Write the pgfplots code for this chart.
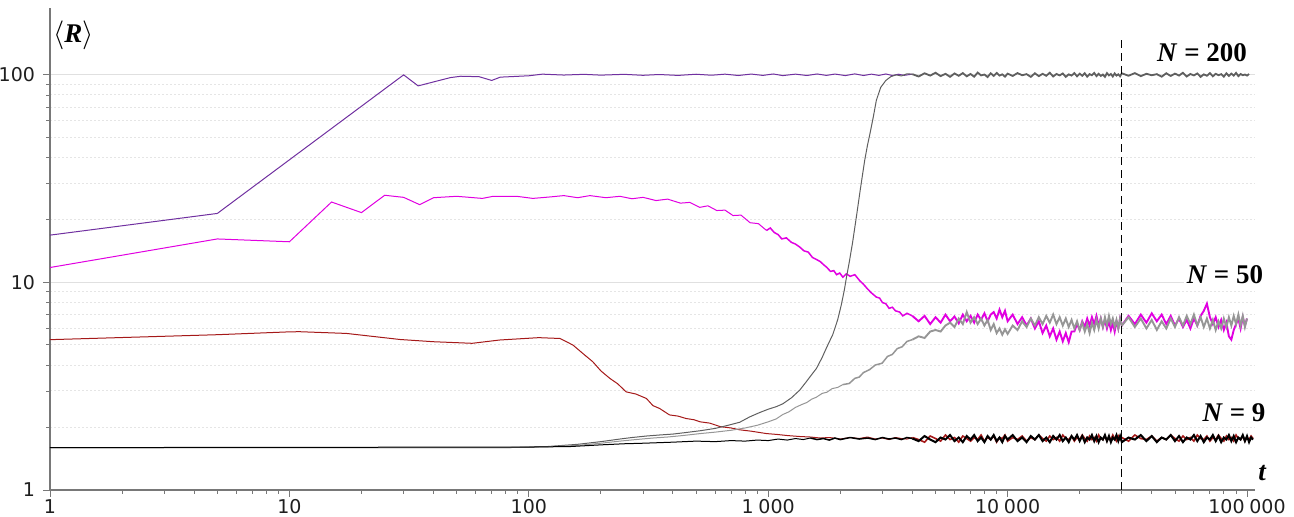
\documentclass[border=0pt]{standalone}
\usepackage{pgfplots}
\pgfplotsset{compat=1.18}
\usepackage{pgfplotstable}
\usepackage{fontspec}
\setmainfont{Liberation Serif}
\newfontfamily\tickfont{DejaVu Sans}

\definecolor{purpleN}{RGB}{112,48,160}
\definecolor{magN}{RGB}{225,0,225}
\definecolor{redN}{RGB}{165,25,25}
\definecolor{grayA}{RGB}{95,95,95}
\definecolor{grayB}{RGB}{150,150,150}
\definecolor{axisgray}{RGB}{120,120,120}

% stationary regime: columns = N=200 (low start), N=50 (high / low start), N=9 (low / high start)
\pgfplotstableread{
t      g200   m50   g50   k9    r9
4000   100.8  6.9   5.3   1.77  1.79
4250   98.2   6.5   5.5   1.72  1.75
4500   101.8  6.9   5.4   1.82  1.70
4750   99.2   6.3   5.8   1.75  1.82
5000   102.4  6.8   5.9   1.70  1.77
5250   98.6   6.4   5.8   1.79  1.72
5500   101.2  7.0   6.2   1.75  1.84
5750   97.8   6.5   6.4   1.84  1.75
6000   101.6  6.85  6.1   1.72  1.79
6250   99.0   6.35  6.7   1.79  1.70
6500   102.0  7.0   6.3   1.70  1.82
6750   98.4   6.5   7.2   1.82  1.77
7000   101.0  6.9   6.4   1.75  1.72
7250   98.0   6.4   6.8   1.84  1.79
7500   102.6  7.0   6.3   1.72  1.75
7750   99.4   6.6   6.7   1.79  1.84
8000   100.4  7.1   6.2   1.70  1.72
8250   97.6   6.5   6.6   1.82  1.79
8500   101.8  7.0   5.9   1.75  1.75
8750   98.8   7.2   6.3   1.84  1.82
9000   102.2  6.7   5.7   1.72  1.70
9250   99.2   7.4   6.0   1.79  1.79
9500   100.6  6.8   5.6   1.70  1.77
9750   98.0   7.3   5.95  1.82  1.84
10000  101.4  6.5   5.65  1.75  1.72
10500  98.8   7.0   6.2   1.84  1.79
11000  102.0  6.3   5.9   1.72  1.75
11500  99.6   6.8   6.5   1.79  1.82
12000  100.8  6.2   6.1   1.70  1.72
12500  97.8   6.7   6.7   1.82  1.79
13000  101.8  6.0   6.2   1.75  1.75
13500  98.6   6.5   6.8   1.84  1.84
14000  101.2  5.7   6.3   1.72  1.77
14500  99.0   6.2   6.9   1.79  1.72
15000  102.4  5.5   6.4   1.70  1.82
15500  98.2   6.0   7.0   1.82  1.75
16000  101.0  5.3   6.3   1.75  1.79
16500  99.4   5.8   6.8   1.84  1.72
17000  101.6  5.2   6.2   1.72  1.84
17500  97.8   5.7   6.7   1.79  1.77
18000  100.6  5.15  6.1   1.70  1.75
18500  99.2   5.8   6.6   1.82  1.82
19000  102.0  5.8   6.0   1.75  1.72
19500  98.4   6.3   6.5   1.84  1.79
20000  101.4  5.9   5.9   1.72  1.75
20500  99.0   6.5   6.4   1.82  1.84
21000  101.8  6.1   5.8   1.70  1.77
21500  98.0   6.7   6.3   1.79  1.72
22000  100.8  6.2   5.7   1.75  1.82
22500  99.6   6.8   6.4   1.84  1.75
23000  102.2  6.3   5.9   1.72  1.79
23500  98.6   6.9   6.6   1.82  1.72
24000  101.2  6.2   6.0   1.70  1.84
24500  98.8   6.7   6.7   1.79  1.77
25000  100.4  6.1   6.1   1.75  1.75
25500  97.8   6.6   6.8   1.84  1.82
26000  102.0  6.0   6.2   1.72  1.72
26500  99.4   6.5   6.9   1.82  1.79
27000  101.0  5.9   6.3   1.70  1.75
27500  98.2   6.4   6.7   1.79  1.84
28000  101.6  5.8   6.1   1.75  1.77
28500  99.2   6.5   6.6   1.84  1.72
29000  100.6  6.0   6.0   1.72  1.82
29500  98.4   6.7   6.7   1.82  1.75
30000  101.8  6.2   6.2   1.70  1.79
32000  99.0   6.9   6.8   1.79  1.72
34000  102.0  6.3   6.1   1.75  1.84
36000  98.6   7.0   6.7   1.84  1.77
38000  101.2  6.4   6.0   1.72  1.75
40000  99.6   7.1   6.6   1.82  1.82
42000  100.8  6.5   5.9   1.70  1.72
44000  98.0   7.0   6.5   1.79  1.79
46000  101.8  6.3   6.0   1.75  1.75
48000  98.8   6.9   6.7   1.84  1.84
50000  101.4  6.2   6.1   1.72  1.77
52000  99.2   6.7   6.8   1.82  1.72
54000  102.4  6.1   6.2   1.70  1.82
56000  98.2   6.6   6.9   1.79  1.75
58000  101.0  6.0   6.3   1.75  1.79
60000  99.4   6.7   7.0   1.84  1.72
62000  101.6  6.2   6.2   1.72  1.84
64000  97.8   6.9   6.8   1.82  1.77
66000  100.6  7.3   6.1   1.70  1.75
68000  99.0   7.9   6.7   1.79  1.82
70000  102.0  6.8   6.0   1.75  1.72
72000  98.4   6.3   6.6   1.84  1.79
74000  101.2  6.8   5.9   1.72  1.75
76000  99.6   6.1   6.5   1.82  1.84
78000  100.8  6.6   6.0   1.70  1.77
80000  98.0   5.9   6.7   1.79  1.72
82000  101.8  6.4   6.1   1.75  1.82
84000  98.8   5.5   6.8   1.84  1.75
86000  101.4  5.3   6.2   1.72  1.79
88000  99.2   5.9   6.9   1.82  1.72
90000  102.2  6.3   6.3   1.70  1.84
92000  98.6   6.7   7.0   1.79  1.77
94000  101.0  6.0   6.2   1.75  1.75
96000  99.6   6.8   6.9   1.84  1.82
98000  100.4  6.2   6.1   1.72  1.72
100000 99.2   6.7   6.7   1.82  1.79
102000 101.0  nan   nan   1.70  1.75
104000 nan    nan   nan   1.79  1.82
106000 nan    nan   nan   1.75  1.77
}\tail

\begin{document}
\begin{tikzpicture}
\begin{loglogaxis}[
  scale only axis,
  width=602.5pt, height=241pt,
  xmin=1, xmax=108000,
  ymin=1, ymax=210,
  clip=false,
  axis x line*=bottom, axis y line*=left,
  axis line style={draw=axisgray, line width=0.6pt, -},
  every outer x axis line/.append style={-},
  every outer y axis line/.append style={-},
  tick align=outside,
  major tick length=3.5pt, minor tick length=2pt,
  tick style={draw=axisgray, line width=0.45pt},
  xtick={1,10,100,1000,10000,100000},
  xticklabels={1,10,100,1\hspace{0.25em}000,10\hspace{0.25em}000,100\hspace{0.25em}000},
  ytick={1,10,100}, yticklabels={1,10,100},
  ticklabel style={font=\tickfont\fontsize{9.5}{11}\selectfont, text=black!88},
  xticklabel style={yshift=2.3pt},
  yticklabel style={xshift=-0.5pt},
  ymajorgrids, yminorgrids,
  major grid style={draw=black!12, line width=0.6pt},
  minor grid style={draw=black!10, line width=0.5pt, dash pattern=on 1pt off 1pt},
]

% N = 200, started from above
\addplot[purpleN, line width=0.5pt] coordinates {
 (1,16.9) (5,21.5) (30,100) (34.5,88.5) (47,97) (52,98.5) (62,98) (70,94) (76,97.5)
 (100,99) (114,100.8) (140,99.8) (170,100.6) (200,99.7) (250,100.6) (300,99.5)
 (350,100.4) (420,99.4) (500,100.7) (580,99.6) (660,100.8) (750,99.3) (850,100.9)
 (950,99.4) (1050,101.0) (1150,99.2) (1300,100.8) (1450,99.3) (1600,101.0) (1750,99.4)
 (1900,100.9) (2100,99.2) (2300,101.1) (2500,99.3) (2700,100.8) (2900,99.4) (3100,101.0)
 (3300,99.3) (3500,100.7) (3700,99.5) (4000,100.8)};

% N = 50, started from above
\addplot[magN, line width=0.5pt] coordinates {
 (1,11.8) (5,16.2) (10,15.7) (15,24.4) (20,21.7) (25,26.3) (30,25.7) (35,23.7) (40,25.6)
 (50,26.0) (64,25.4) (71,26.0) (89,26.0) (104,25.4) (122,25.8) (140,26.2) (160,25.6)
 (180,26.2) (210,25.6) (240,26.0) (270,25.3) (300,25.7) (340,24.8) (380,25.2) (430,24.1)
 (470,24.3) (518,23.0) (560,23.4) (610,22.2) (660,22.3) (713,21.0) (770,21.1) (840,19.4)
 (910,19.2) (984,17.8)};
\addplot[magN, line width=0.75pt] coordinates {
 (984,17.8) (1020,18.3) (1060,17.4) (1100,17.0) (1140,16.2) (1190,16.4) (1250,15.6)
 (1300,15.3) (1355,14.8) (1410,14.2) (1470,14.0) (1530,13.2) (1590,12.9) (1650,12.6)
 (1700,12.2) (1760,11.8) (1820,11.3) (1880,11.4) (1930,10.9) (1990,11.1) (2051,10.6)
 (2120,11.0) (2200,10.7) (2300,10.9) (2410,10.2) (2500,9.8) (2600,9.3) (2700,8.9)
 (2830,8.5) (2920,8.4) (3000,8.0) (3100,7.9) (3200,7.5) (3300,7.6) (3400,7.3)
 (3540,7.2) (3650,6.9) (3800,7.1) (4000,6.9)};
\addplot[magN, line width=0.95pt] table[x=t, y=m50] {\tail};

% N = 9, started from above
\addplot[redN, line width=0.5pt] coordinates {
 (1,5.3) (5,5.6) (10,5.78) (11,5.79) (17.3,5.68) (29,5.31) (40,5.18) (58,5.09) (75.6,5.28)
 (110,5.42) (135,5.37) (153,4.99) (170,4.5) (185,4.15) (200,3.75) (218,3.45) (235,3.25)
 (255,2.97) (280,2.9) (310,2.76) (330,2.55) (352,2.47) (387,2.30) (420,2.27) (454,2.21)
 (490,2.18) (520,2.13) (570,2.1) (630,2.02) (700,1.99) (760,1.95) (850,1.92) (984,1.87)
 (1100,1.85) (1200,1.83) (1355,1.81) (1500,1.80) (1650,1.78) (1800,1.79) (2000,1.76)
 (2200,1.79) (2400,1.77) (2600,1.80) (2800,1.76) (3000,1.78) (3200,1.75) (3400,1.79)
 (3600,1.77) (3800,1.76) (4000,1.79)};
\addplot[redN, line width=0.8pt] table[x=t, y=r9] {\tail};

% N = 200, started from below
\addplot[grayA, line width=0.5pt] coordinates {
 (1,1.6) (80,1.6) (120,1.62) (160,1.66) (200,1.71) (240,1.76) (270,1.79) (310,1.82)
 (350,1.84) (400,1.86) (450,1.89) (520,1.93) (600,1.98) (680,2.05) (760,2.12) (837,2.25)
 (920,2.36) (1000,2.45) (1080,2.52) (1150,2.6) (1250,2.78) (1355,3.03) (1450,3.35)
 (1520,3.6) (1590,3.85) (1680,4.35) (1760,4.9) (1860,5.6) (1950,6.6) (2020,7.8)
 (2080,9.2) (2120,10.5) (2180,12.5) (2250,15.5) (2335,20.7) (2430,28.5) (2530,38.8)
 (2600,46) (2660,52) (2750,63) (2830,75.5) (2950,87) (3100,94) (3250,98) (3420,100)
 (3600,98.8) (3800,101.2) (4000,100.8)};
\addplot[grayA, line width=0.9pt] table[x=t, y=g200] {\tail};

% N = 50, started from below
\addplot[grayB, line width=0.5pt] coordinates {
 (1,1.6) (80,1.6) (120,1.615) (160,1.64) (200,1.68) (240,1.72) (280,1.75) (330,1.78)
 (380,1.8) (440,1.83) (520,1.87) (600,1.9) (700,1.94) (800,1.99) (900,2.05) (1000,2.13)
 (1080,2.2) (1150,2.31) (1220,2.38) (1300,2.5) (1380,2.58) (1450,2.64) (1520,2.74)
 (1590,2.8) (1680,2.92) (1760,2.96) (1850,3.08) (1950,3.12) (2050,3.22)};
\addplot[grayB, line width=0.75pt] coordinates {
 (2050,3.22) (2180,3.26) (2300,3.45) (2400,3.5) (2500,3.68) (2650,3.8) (2800,4.0)
 (2990,4.08) (3150,4.4) (3300,4.5) (3460,4.8) (3630,4.9) (3800,5.2) (4000,5.3)};
\addplot[grayB, line width=0.95pt] table[x=t, y=g50] {\tail};

% N = 9, started from below
\addplot[black, line width=0.5pt] coordinates {
 (1,1.6) (100,1.61) (150,1.62) (200,1.65) (250,1.67) (300,1.68) (400,1.7) (500,1.72)
 (600,1.71) (700,1.73) (800,1.72) (900,1.74) (1000,1.73) (1100,1.76) (1200,1.74)
 (1300,1.77) (1400,1.75) (1500,1.78)};
\addplot[black, line width=0.75pt] coordinates {
 (1500,1.78) (1600,1.75) (1700,1.77) (1800,1.74) (1900,1.78)
 (2000,1.75) (2200,1.79) (2400,1.76) (2600,1.78) (2800,1.75) (3000,1.79) (3200,1.76)
 (3400,1.78) (3600,1.75) (3800,1.79) (4000,1.77)};
\addplot[black, line width=1pt] table[x=t, y=k9] {\tail};

% marker time
\addplot[black, line width=0.65pt, dash pattern=on 4pt off 2.5pt] coordinates {(30000,1) (30000,147)};

\node[anchor=base, font=\bfseries\fontsize{13.5}{15}\selectfont]
  at (axis cs:64900,115.6) {\textit{N} = 200};
\node[anchor=base, fill=white, inner sep=1.5pt, font=\bfseries\fontsize{13.5}{15}\selectfont]
  at (axis cs:80900,9.9) {\textit{N} = 50};
\node[anchor=base, font=\bfseries\fontsize{13.5}{15}\selectfont]
  at (axis cs:88300,2.13) {\textit{N} = 9};
\end{loglogaxis}

\node[anchor=base, font=\bfseries\itshape\fontsize{13.5}{15}\selectfont]
  at ([xshift=3.5pt, yshift=4.5pt]current axis.south east) {t};
\node[anchor=base, font=\fontsize{13.5}{15}\selectfont]
  at ([xshift=11.75pt, yshift=-17.5pt]current axis.north west) {$\langle$\textbf{\textit{R}}$\rangle$};

\pgfresetboundingbox
\path (current axis.south west) ++(-25pt,-13.5pt) rectangle ++(647pt,258.5pt);
\end{tikzpicture}
\end{document}
